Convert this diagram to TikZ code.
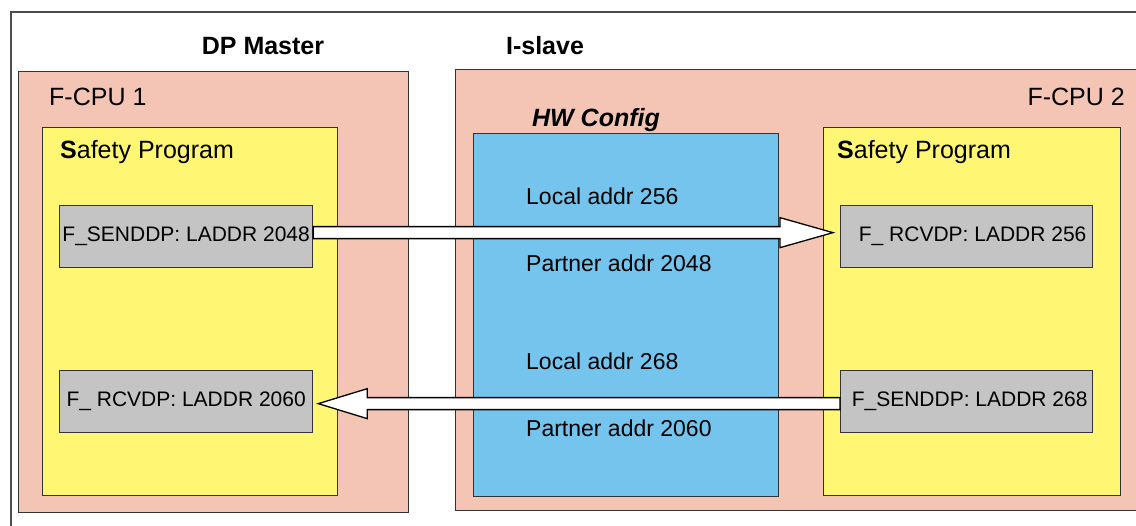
\documentclass[tikz,border=0pt]{standalone}
\usepackage{fontspec}
\setmainfont{Liberation Sans}
\usetikzlibrary{calc}
\definecolor{cpupink}{HTML}{F4C5B4}
\definecolor{progyellow}{HTML}{FFF774}
\definecolor{hwblue}{HTML}{74C4ED}
\definecolor{blockgray}{HTML}{C4C4C4}
\definecolor{edge}{HTML}{333333}
\tikzset{
  box/.style={draw=edge, line width=1.3pt, rectangle, inner sep=0pt, anchor=north west},
  blockbox/.style={box, fill=blockgray, font=\fontsize{21}{25}\selectfont},
  title/.style={font=\fontsize{25}{30}\selectfont\bfseries, inner sep=0pt},
  cputext/.style={font=\fontsize{25}{30}\selectfont, inner sep=0pt},
  addr/.style={font=\fontsize{23}{27}\selectfont, inner sep=0pt, anchor=west},
  bigarrow/.style={draw=black, fill=white, line width=1.3pt, line join=miter}
}
\begin{document}
\begin{tikzpicture}[x=1pt,y=-1pt]
\useasboundingbox (0,0) rectangle (1136,526);
\clip (0,0) rectangle (1136,526);
\fill[white] (0,0) rectangle (1136,526);
% outer frame
\draw[draw=black!70, line width=1.2pt] (11,12) rectangle (1160,560);
% containers
\node[box, fill=cpupink, minimum width=390pt, minimum height=441pt] (cpu1) at (18,71) {};
\node[box, fill=cpupink, minimum width=720pt, minimum height=441pt] (cpu2) at (455,69) {};
\node[box, fill=progyellow, minimum width=295pt, minimum height=368pt] (prog1) at (42,127) {};
\node[box, fill=hwblue, minimum width=305pt, minimum height=363pt] (hw) at (473,133) {};
\node[box, fill=progyellow, minimum width=297pt, minimum height=368pt] (prog2) at (823,127) {};
% blocks
\node[blockbox, minimum width=253pt, minimum height=62pt] (send1) at (59,205) {F\_SENDDP: LADDR 2048};
\node[blockbox, minimum width=253pt, minimum height=62pt] (rcv1) at (59,370) {F\_ RCVDP: LADDR 2060};
\node[blockbox, minimum width=252pt, minimum height=62pt] (rcv2) at (840,205) {\hspace{12pt}F\_ RCVDP: LADDR 256};
\node[blockbox, minimum width=252pt, minimum height=62pt] (send2) at (840,370) {\hspace{6pt}F\_SENDDP: LADDR 268};
% titles
\node[title] (dpm) at (263,46) {DP Master};
\node[title] (isl) at (545,46) {I-slave};
\node[cputext, anchor=west] (cpu1t) at (49,97) {F-CPU 1};
\node[cputext, anchor=east] (cpu2t) at (1125,97) {F-CPU 2};
\node[title, font=\fontsize{25}{30}\selectfont\bfseries\itshape] (hwt) at (596,120) {HW Config};
\node[cputext, anchor=west] (sp1) at (60,152) {\textbf{S}afety Program};
\node[cputext, anchor=west] (sp2) at (837,152) {\textbf{S}afety Program};
% addresses
\node[addr] (la1) at (526,196) {Local addr 256};
\node[addr] (pa1) at (526,263) {Partner addr 2048};
\node[addr] (la2) at (526,361) {Local addr 268};
\node[addr] (pa2) at (526,428) {Partner addr 2060};
% arrows
\coordinate (a1s) at ($(send1.east)+(0,-4)$);
\coordinate (a1e) at ($(rcv2.west)+(-7,-4)$);
\draw[bigarrow] ($(a1s)+(0,-6)$) -- ($(a1e)+(-53,-6)$) -- ($(a1e)+(-53,-15)$) -- (a1e)
  -- ($(a1e)+(-53,15)$) -- ($(a1e)+(-53,6)$) -- ($(a1s)+(0,6)$) -- cycle;
\coordinate (a2s) at ($(send2.west)+(0,2)$);
\coordinate (a2e) at ($(rcv1.east)+(5,2)$);
\draw[bigarrow] ($(a2s)+(0,-6)$) -- ($(a2e)+(49,-6)$) -- ($(a2e)+(49,-15)$) -- (a2e)
  -- ($(a2e)+(49,15)$) -- ($(a2e)+(49,6)$) -- ($(a2s)+(0,6)$) -- cycle;
\end{tikzpicture}
\end{document}
